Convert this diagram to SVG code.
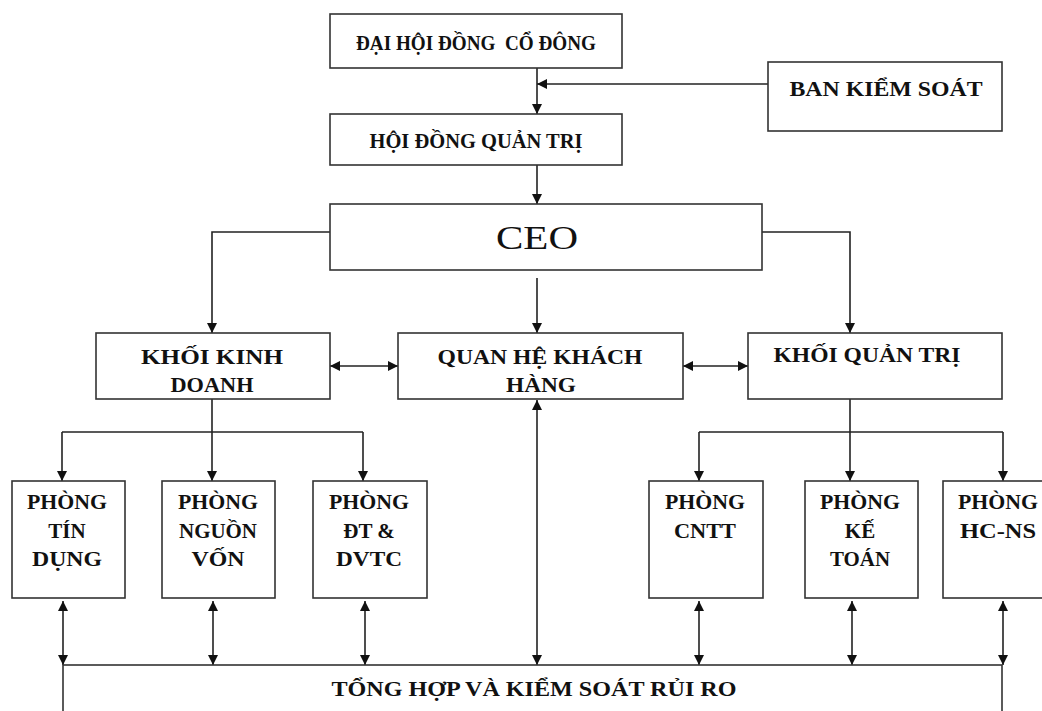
<svg xmlns="http://www.w3.org/2000/svg" width="1042" height="711" viewBox="0 0 1042 711">
<defs>
<marker id="ah" viewBox="0 0 10 10" refX="10" refY="5" markerWidth="11" markerHeight="10" markerUnits="userSpaceOnUse" orient="auto-start-reverse">
<path d="M0,0 L10,5 L0,10 z" fill="#111"/>
</marker>
<style>
.box{fill:#fff;stroke:#333;stroke-width:1.6}
.t{font-family:"Liberation Serif","Times New Roman",serif;font-weight:bold;font-size:21px;fill:#111;text-anchor:middle}
.ceo{font-family:"Liberation Serif","Times New Roman",serif;font-size:34px;fill:#111;text-anchor:middle}
.c{fill:none;stroke:#222;stroke-width:1.6}
.a{marker-end:url(#ah)}
.d{marker-start:url(#ah);marker-end:url(#ah)}
</style>
</defs>
<rect width="1042" height="711" fill="#fff"/>
<g id="connectors">
<line class="c a" x1="537" y1="68" x2="537" y2="114"/>
<line class="c a" x1="768" y1="84" x2="537" y2="84"/>
<line class="c a" x1="537" y1="165" x2="537" y2="204"/>
<polyline class="c a" points="330,232 212,232 212,333"/>
<polyline class="c a" points="762,232 850,232 850,333"/>
<line class="c a" x1="537" y1="278" x2="537" y2="333"/>
<line class="c d" x1="330" y1="366" x2="398" y2="366"/>
<line class="c d" x1="683" y1="366" x2="748" y2="366"/>
<line class="c" x1="212" y1="399" x2="212" y2="432"/>
<line class="c" x1="62" y1="432" x2="363" y2="432"/>
<line class="c a" x1="62" y1="432" x2="62" y2="481"/>
<line class="c a" x1="212" y1="432" x2="212" y2="481"/>
<line class="c a" x1="363" y1="432" x2="363" y2="481"/>
<line class="c" x1="850" y1="399" x2="850" y2="432"/>
<line class="c" x1="699" y1="432" x2="1003" y2="432"/>
<line class="c a" x1="699" y1="432" x2="699" y2="481"/>
<line class="c a" x1="850" y1="432" x2="850" y2="481"/>
<line class="c a" x1="1003" y1="432" x2="1003" y2="481"/>
<line class="c d" x1="63" y1="601" x2="63" y2="665"/>
<line class="c d" x1="213" y1="601" x2="213" y2="665"/>
<line class="c d" x1="365" y1="601" x2="365" y2="665"/>
<line class="c d" x1="699" y1="601" x2="699" y2="665"/>
<line class="c d" x1="852" y1="601" x2="852" y2="665"/>
<line class="c d" x1="1003" y1="601" x2="1003" y2="665"/>
<line class="c d" x1="537" y1="400" x2="537" y2="665"/>
</g>
<g id="dhcd"><rect class="box" x="330" y="14" width="292" height="54"/><text class="t" x="476" y="50" textLength="240" lengthAdjust="spacingAndGlyphs" xml:space="preserve">ĐẠI HỘI ĐỒNG  CỔ ĐÔNG</text></g>
<g id="bks"><rect class="box" x="768" y="62" width="234" height="69"/><text class="t" x="886" y="96" textLength="193" lengthAdjust="spacingAndGlyphs">BAN KIỂM SOÁT</text></g>
<g id="hdqt"><rect class="box" x="330" y="114" width="292" height="51"/><text class="t" x="476" y="148" textLength="213" lengthAdjust="spacingAndGlyphs">HỘI ĐỒNG QUẢN TRỊ</text></g>
<g id="ceo"><rect class="box" x="330" y="204" width="432" height="66"/><text class="ceo" x="537" y="249" textLength="82" lengthAdjust="spacingAndGlyphs">CEO</text></g>
<g id="kkd"><rect class="box" x="96" y="333" width="234" height="66"/><text class="t" x="212" y="364" textLength="142" lengthAdjust="spacingAndGlyphs">KHỐI KINH</text><text class="t" x="212" y="392" textLength="83" lengthAdjust="spacingAndGlyphs">DOANH</text></g>
<g id="qhkh"><rect class="box" x="398" y="333" width="285" height="66"/><text class="t" x="540" y="364" textLength="205" lengthAdjust="spacingAndGlyphs">QUAN HỆ KHÁCH</text><text class="t" x="541" y="392" textLength="70" lengthAdjust="spacingAndGlyphs">HÀNG</text></g>
<g id="kqt"><rect class="box" x="748" y="333" width="254" height="66"/><text class="t" x="867" y="362" textLength="187" lengthAdjust="spacingAndGlyphs">KHỐI QUẢN TRỊ</text></g>
<g id="p-tindung"><rect class="box" x="12" y="481" width="113" height="117"/><text class="t" x="67" y="509" textLength="80" lengthAdjust="spacingAndGlyphs">PHÒNG</text><text class="t" x="67" y="538">TÍN</text><text class="t" x="67" y="566" textLength="70" lengthAdjust="spacingAndGlyphs">DỤNG</text></g>
<g id="p-nguonvon"><rect class="box" x="162" y="481" width="113" height="117"/><text class="t" x="218" y="509" textLength="80" lengthAdjust="spacingAndGlyphs">PHÒNG</text><text class="t" x="218" y="538" textLength="78" lengthAdjust="spacingAndGlyphs">NGUỒN</text><text class="t" x="218" y="566" textLength="53" lengthAdjust="spacingAndGlyphs">VỐN</text></g>
<g id="p-dt"><rect class="box" x="313" y="481" width="114" height="117"/><text class="t" x="369" y="509" textLength="80" lengthAdjust="spacingAndGlyphs">PHÒNG</text><text class="t" x="369" y="538">ĐT &amp;</text><text class="t" x="369" y="566" textLength="66" lengthAdjust="spacingAndGlyphs">DVTC</text></g>
<g id="p-cntt"><rect class="box" x="649" y="481" width="114" height="117"/><text class="t" x="705" y="509" textLength="80" lengthAdjust="spacingAndGlyphs">PHÒNG</text><text class="t" x="705" y="538" textLength="62" lengthAdjust="spacingAndGlyphs">CNTT</text></g>
<g id="p-ketoan"><rect class="box" x="805" y="481" width="113" height="117"/><text class="t" x="860" y="509" textLength="80" lengthAdjust="spacingAndGlyphs">PHÒNG</text><text class="t" x="860" y="538">KẾ</text><text class="t" x="860" y="566" textLength="60" lengthAdjust="spacingAndGlyphs">TOÁN</text></g>
<g id="p-hcns"><rect class="box" x="943" y="481" width="120" height="117"/><text class="t" x="998" y="509" textLength="80" lengthAdjust="spacingAndGlyphs">PHÒNG</text><text class="t" x="998" y="538" textLength="76" lengthAdjust="spacingAndGlyphs">HC-NS</text></g>
<g id="tonghop"><rect class="box" x="63" y="665" width="939" height="70"/><text class="t" x="534" y="696" textLength="405" lengthAdjust="spacingAndGlyphs">TỔNG HỢP VÀ KIỂM SOÁT RỦI RO</text></g>
</svg>
